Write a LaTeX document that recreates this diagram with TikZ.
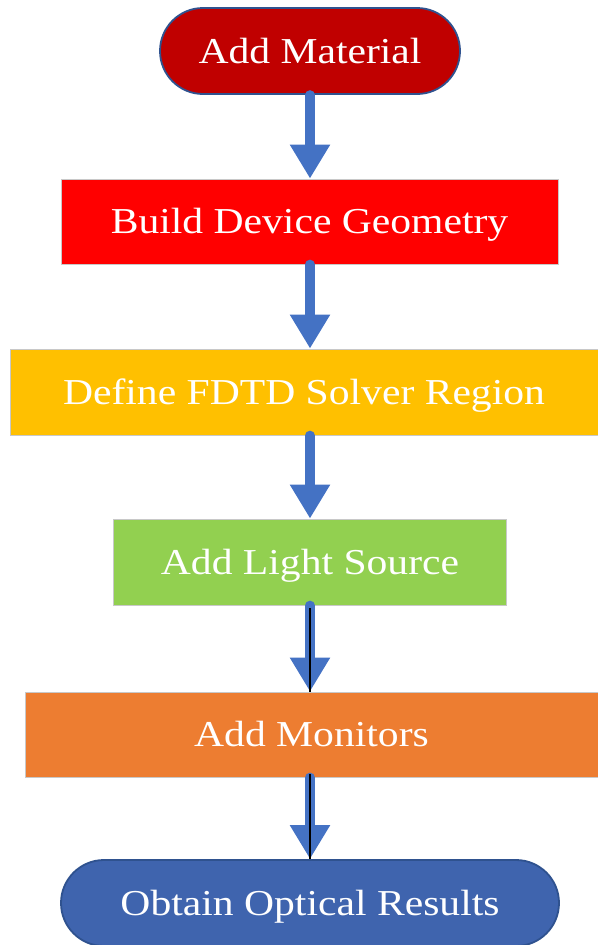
\documentclass[tikz,border=0pt]{standalone}
\usepackage{fontspec}
\setmainfont[FakeStretch=1.14]{Liberation Serif}
\usetikzlibrary{arrows.meta,shapes.misc}
\definecolor{darkred}{HTML}{C00000}
\definecolor{pred}{HTML}{FF0000}
\definecolor{pgold}{HTML}{FFC000}
\definecolor{pgreen}{HTML}{92D050}
\definecolor{porange}{HTML}{ED7D31}
\definecolor{pblue}{HTML}{4472C4}
\definecolor{tblue}{HTML}{3F64AE}
\definecolor{bordblue}{HTML}{2F528F}
\definecolor{boxline}{HTML}{C8C8C8}
\tikzset{
  lbl/.style={text=white, font=\fontsize{36.5}{40}\selectfont, text height=24pt, text depth=0pt, inner sep=0pt},
  stepbox/.style={lbl, rectangle, draw=boxline, line width=0.8pt},
  term/.style={lbl, rounded rectangle, draw=bordblue, line width=1.8pt},
  flow/.style={draw=pblue, line width=9.5pt, line cap=round, -{Triangle[width=38pt,length=34pt]}},
  blk/.style={draw=black, line width=2.8pt}
}
\begin{document}
\begin{tikzpicture}[x=1pt,y=-1pt]
\useasboundingbox (0,0) rectangle (597,945);
\coordinate (axis) at (310,0);
\node[term, fill=darkred, minimum width=300pt, minimum height=86pt] (t1) at (310,51) {Add Material};
\node[stepbox, fill=pred, minimum width=497pt, minimum height=85pt] (b2) at (309.5,221.5) {Build Device Geometry};
\node[stepbox, fill=pgold, minimum width=588pt, minimum height=86pt] (b3) at (304,392) {Define FDTD Solver Region};
\node[stepbox, fill=pgreen, minimum width=393pt, minimum height=86pt] (b4) at (310,562) {Add Light Source};
\node[stepbox, fill=porange, minimum width=573pt, minimum height=85pt] (b5) at (311.5,734.5) {Add Monitors};
\node[term, fill=tblue, minimum width=498pt, minimum height=86pt] (t6) at (310,903) {Obtain Optical Results};
\draw[flow] (t1.south -| axis) -- (b2.north -| axis);
\draw[flow] (b2.south -| axis) -- (b3.north -| axis);
\draw[flow] (b3.south -| axis) -- (b4.north -| axis);
\draw[flow] (b4.south -| axis) -- (b5.north -| axis);
\draw[flow] (b5.south -| axis) -- (t6.north -| axis);
\draw[blk] ([yshift=-3pt]b4.south -| axis) -- (b5.north -| axis);
\draw[blk] ([yshift=3pt]b5.south -| axis) -- (t6.north -| axis);
\end{tikzpicture}
\end{document}
